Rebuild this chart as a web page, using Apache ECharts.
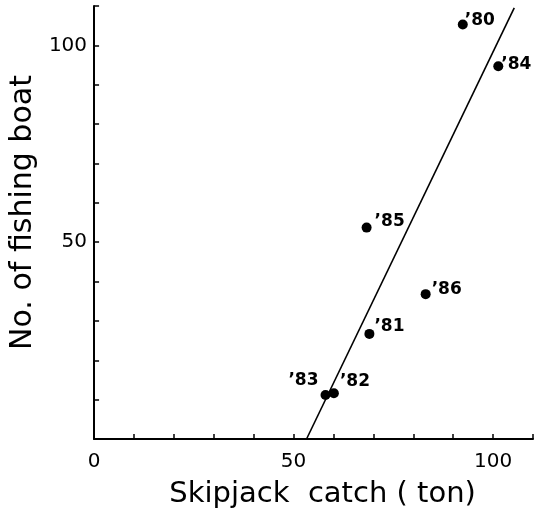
<!DOCTYPE html>
<html>
<head>
<meta charset="utf-8">
<script src="https://cdn.jsdelivr.net/npm/echarts@6/dist/echarts.min.js"></script>
<style>
  html, body { margin: 0; padding: 0; background: #fff; }
  #chart { width: 538px; height: 519px; }
</style>
</head>
<body>
<div id="chart"></div>
<script>
// Yearly skipjack catch vs. number of fishing boats
const years = ["’80", "’81", "’82", "’83", "’84", "’85", "’86"];
const catchTon = [92.4, 69.0, 60.1, 58.0, 101.3, 68.3, 83.1];
const boatCount = [105.3, 26.7, 11.6, 11.2, 94.7, 53.7, 36.8];

// Regression line end points
const fitCatch = [53.25, 105.3];
const fitBoats = [0, 109.5];

// Tick labels shown on each axis
const xTickLabels = [0, 50, 100];
const yTickLabels = [50, 100];

// Label placement per year (pixels)
const labelPlacement = {
  "’80": { position: "right", offset: [-8, -4] },
  "’81": { position: "right", offset: [-5, -7] },
  "’82": { position: "right", offset: [-4, -12] },
  "’83": { position: "left", offset: [3, -14] },
  "’84": { position: "right", offset: [-7, -2] },
  "’85": { position: "right", offset: [-2, -6] },
  "’86": { position: "right", offset: [-4, -5] }
};

const FONT = "DejaVu Sans";

const pointData = years.map((y, i) => ({
  value: [catchTon[i], boatCount[i]],
  name: y,
  label: {
    position: labelPlacement[y].position,
    offset: labelPlacement[y].offset,
    distance: 5
  }
}));

const lineData = fitCatch.map((x, i) => [x, fitBoats[i]]);

const axisCommon = {
  type: "value",
  min: 0,
  max: 110,
  interval: 10,
  splitLine: { show: false },
  axisLine: { show: true, onZero: false, lineStyle: { color: "#000", width: 2 } },
  axisTick: { show: true, inside: true, length: 5, lineStyle: { color: "#000", width: 1.5 } }
};

const chart = echarts.init(document.getElementById("chart"), null, { renderer: "canvas" });
chart.setOption({
  animation: false,
  backgroundColor: "#fff",
  grid: { left: 93, right: 5, top: 6, bottom: 80, containLabel: false },
  xAxis: Object.assign({}, axisCommon, {
    name: "Skipjack  catch ( ton)",
    nameLocation: "middle",
    nameGap: 41,
    nameTextStyle: { fontFamily: FONT, fontSize: 29, color: "#000", padding: [0, 0, 0, 18] },
    axisLabel: {
      margin: 13,
      fontFamily: FONT,
      fontSize: 20,
      color: "#000",
      formatter: v => (xTickLabels.includes(v) ? String(v) : "")
    }
  }),
  yAxis: Object.assign({}, axisCommon, {
    name: "No. of fishing boat",
    nameLocation: "middle",
    nameGap: 55,
    nameRotate: 90,
    nameTextStyle: { fontFamily: FONT, fontSize: 30, color: "#000", padding: [0, 0, 0, 20] },
    axisLabel: {
      margin: 7,
      fontFamily: FONT,
      fontSize: 20,
      color: "#000",
      formatter: v => (yTickLabels.includes(v) ? String(v) : "")
    }
  }),
  series: [
    {
      type: "line",
      data: lineData,
      symbol: "none",
      lineStyle: { color: "#000", width: 1.6 },
      z: 2
    },
    {
      type: "scatter",
      data: pointData,
      symbol: "circle",
      symbolSize: 10,
      itemStyle: { color: "#000", opacity: 1 },
      label: {
        show: true,
        formatter: p => p.name,
        fontFamily: FONT,
        fontSize: 17,
        fontWeight: "bold",
        color: "#000"
      },
      z: 3
    }
  ]
});
</script>
</body>
</html>
